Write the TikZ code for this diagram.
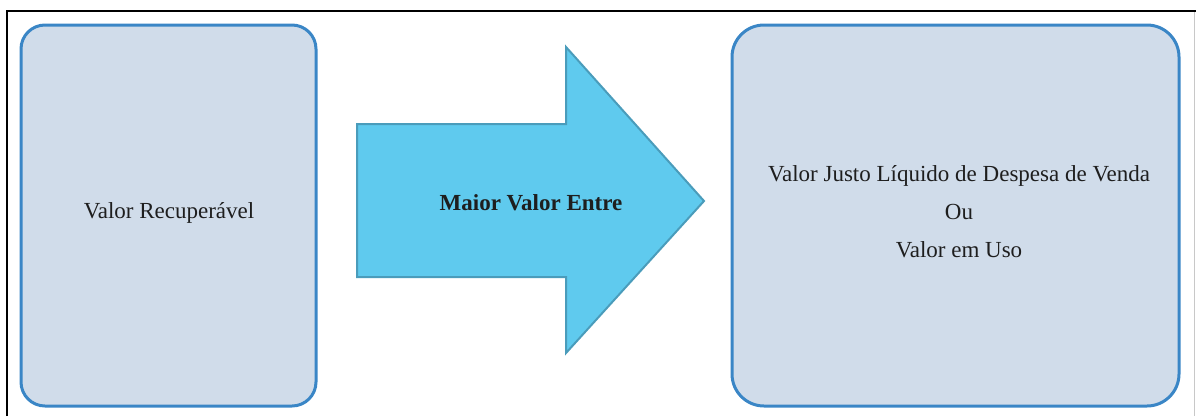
\documentclass[tikz,border=0pt]{standalone}
\usepackage{fontspec}
\setmainfont{Liberation Serif}
\definecolor{boxfill}{HTML}{D0DCEA}
\definecolor{boxline}{HTML}{3A86C6}
\definecolor{arrfill}{HTML}{5FCAEE}
\definecolor{arrline}{HTML}{4A9CBB}
\definecolor{txt}{HTML}{1E1E1E}
\definecolor{rframe}{HTML}{C8C8C8}
\begin{document}
\begin{tikzpicture}[x=1pt,y=-1pt,
  panel/.style={draw=boxline, line width=3pt, fill=boxfill, inner sep=0pt},
  lbl/.style={text=txt, font=\fontsize{23}{38}\selectfont, inner sep=0pt}]
\useasboundingbox (0,0) rectangle (1196,416);
% frame
\draw[line width=2pt, black] (7,416) -- (7,11) -- (1196,11);
\draw[line width=1pt, rframe] (1194,12) -- (1194,416);
% boxes
\draw[panel, rounded corners=24pt] (21,25) rectangle (316,406);
\draw[panel, rounded corners=32pt] (732,25) rectangle (1179,406);
% arrow
\draw[fill=arrfill, draw=arrline, line width=2pt, line join=miter]
  (357,124) -- (566,124) -- (566,47) -- (704,201) -- (566,353) -- (566,277) -- (357,277) -- cycle;
\node[lbl, anchor=base] (left) at (169,218) {Valor Recuperável};
\node[lbl, anchor=base, font=\fontsize{23}{38}\selectfont\bfseries] (mid) at (531,210) {Maior Valor Entre};
\node[lbl, anchor=base, align=center] (right) at (959,257) {Valor Justo Líquido de Despesa de Venda\\Ou\\Valor em Uso};
\end{tikzpicture}
\end{document}
